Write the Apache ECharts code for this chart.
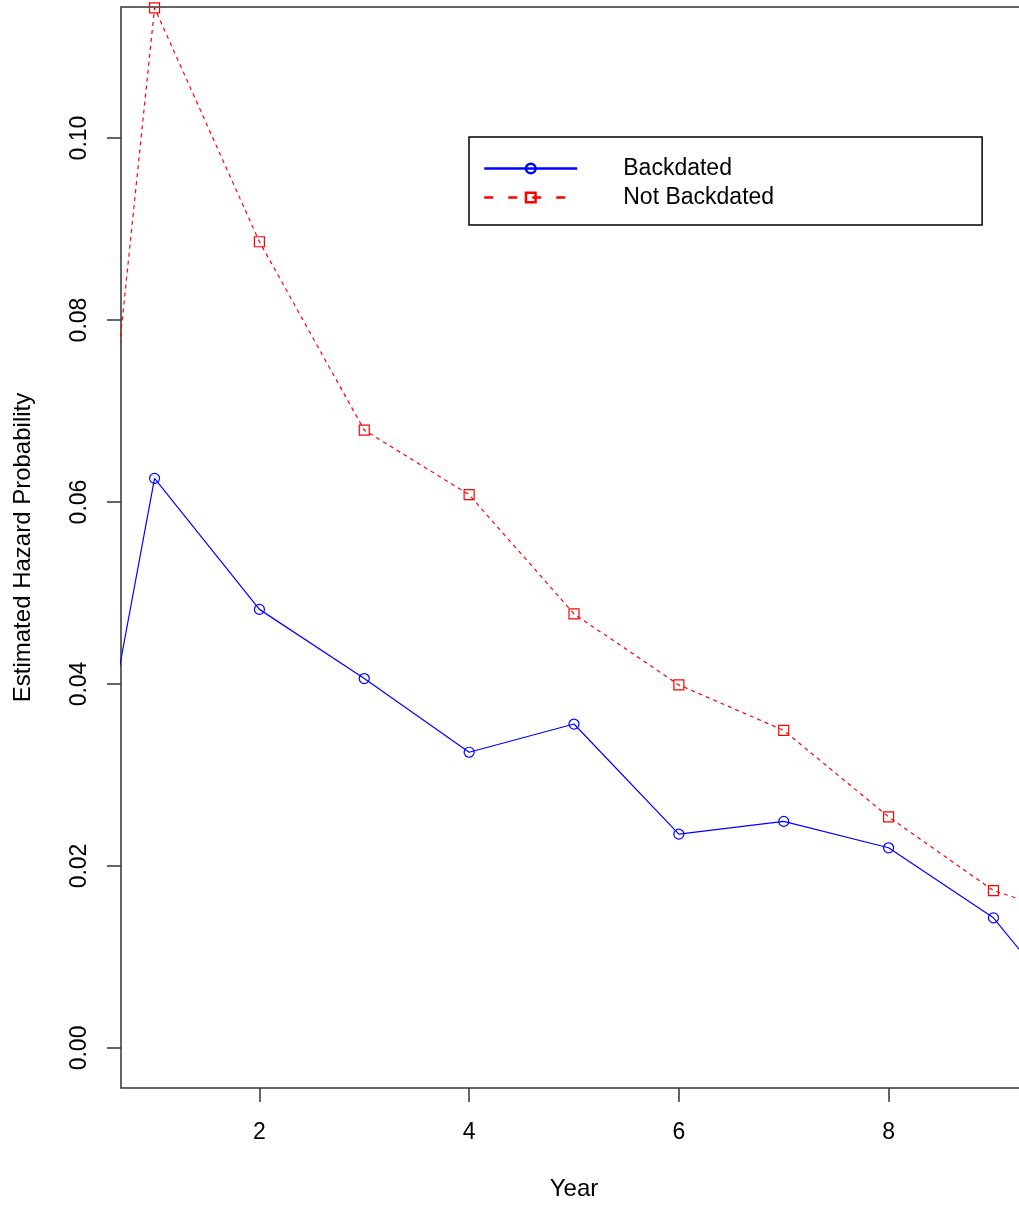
<!DOCTYPE html>
<html>
<head>
<meta charset="utf-8">
<script src="https://cdn.jsdelivr.net/npm/echarts@6/dist/echarts.min.js"></script>
<style>
html,body{margin:0;padding:0;background:#fff;}
#c{width:1019px;height:1205px;}
</style>
</head>
<body>
<div id="c"></div>
<script>
const years = [0, 1, 2, 3, 4, 5, 6, 7, 8, 9, 10];
const backdated = [0.0005, 0.0626, 0.0482, 0.0406, 0.0325, 0.0356, 0.0235, 0.0249, 0.0220, 0.0143, 0.0002];
const notBackdated = [0.003, 0.1143, 0.0886, 0.0679, 0.0608, 0.0477, 0.0399, 0.0349, 0.0254, 0.0173, 0.0135];
const xTicks = [2, 4, 6, 8];
const yTicks = [0, 0.02, 0.04, 0.06, 0.08, 0.10];
const seriesNames = ['Backdated', 'Not Backdated'];

const FONT = "'Liberation Sans', Arial, sans-serif";
const chart = echarts.init(document.getElementById('c'), null, {renderer: 'canvas'});

chart.setOption({
  animation: false,
  backgroundColor: '#ffffff',
  textStyle: {fontFamily: FONT},
  grid: {
    left: 121, top: 7, right: -8, bottom: 117,
    show: true, borderColor: '#333', borderWidth: 1.5,
    backgroundColor: 'transparent',
    containLabel: false, outerBoundsMode: 'none'
  },
  legend: {
    orient: 'vertical',
    left: 469, top: 137,
    padding: [20, 208, 16, 14],
    itemGap: 6,
    itemWidth: 93, itemHeight: 12,
    borderColor: '#000', borderWidth: 1.5, borderRadius: 0,
    backgroundColor: '#fff',
    textStyle: {fontSize: 23, color: '#000', fontFamily: FONT, padding: [0, 0, 0, 41]},
    data: [
      {name: seriesNames[0], lineStyle: {width: 2.5, type: 'solid'}, itemStyle: {borderWidth: 2.5}},
      {name: seriesNames[1], lineStyle: {width: 2.5, type: [9, 15]}, itemStyle: {borderWidth: 2.5}}
    ]
  },
  xAxis: {
    type: 'value',
    min: 0.68, max: 9.32,
    name: 'Year',
    nameLocation: 'middle',
    nameGap: 89,
    nameTextStyle: {fontSize: 24, color: '#000', fontFamily: FONT},
    axisLine: {show: false, onZero: false},
    splitLine: {show: false},
    axisTick: {show: true, length: 14, customValues: xTicks, lineStyle: {color: '#333', width: 1.5}},
    axisLabel: {show: true, customValues: xTicks, margin: 33, fontSize: 23, color: '#000', fontFamily: FONT,
      formatter: v => String(v)}
  },
  yAxis: {
    type: 'value',
    min: -0.0044, max: 0.1144,
    name: 'Estimated Hazard Probability',
    nameLocation: 'middle',
    nameRotate: 90,
    nameGap: 86,
    nameTextStyle: {fontSize: 24, color: '#000', fontFamily: FONT},
    axisLine: {show: false, onZero: false},
    splitLine: {show: false},
    axisTick: {show: true, length: 14, customValues: yTicks, lineStyle: {color: '#333', width: 1.5}},
    axisLabel: {show: true, customValues: yTicks, rotate: 90, margin: 30, fontSize: 23, color: '#000', fontFamily: FONT,
      align: 'center', verticalAlign: 'bottom',
      formatter: v => v.toFixed(2)}
  },
  series: [
    {
      name: seriesNames[0],
      type: 'line',
      data: years.map((y, i) => [y, backdated[i]]),
      clip: true,
      symbol: 'circle', symbolSize: 10,
      showAllSymbol: true,
      lineStyle: {color: '#0000ff', width: 1.2, type: 'solid'},
      itemStyle: {color: 'rgba(255,255,255,0)', borderColor: '#0000ff', borderWidth: 1.2}
    },
    {
      name: seriesNames[1],
      type: 'line',
      data: years.map((y, i) => [y, notBackdated[i]]),
      clip: true,
      symbol: 'rect', symbolSize: 10,
      showAllSymbol: true,
      lineStyle: {color: '#ff0000', width: 1.2, type: [4, 4]},
      itemStyle: {color: 'rgba(255,255,255,0)', borderColor: '#ff0000', borderWidth: 1.2}
    }
  ]
});
</script>
</body>
</html>
